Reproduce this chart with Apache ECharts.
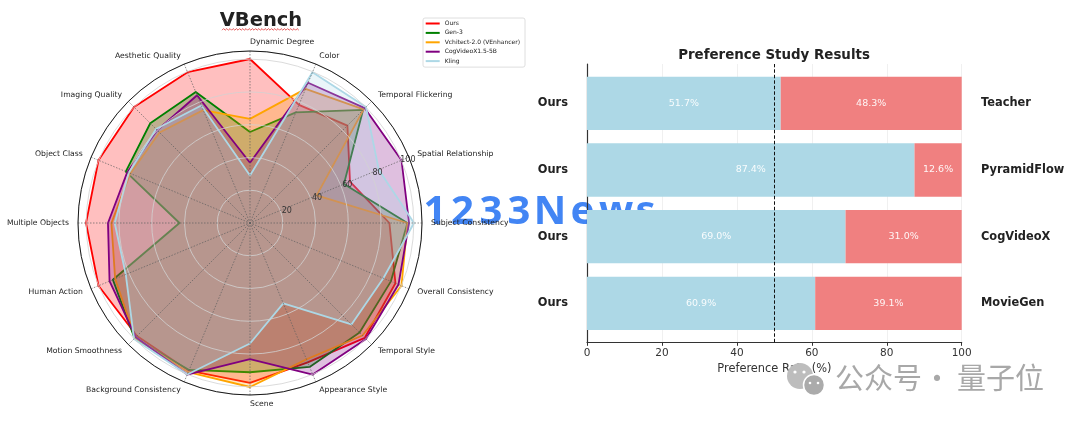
<!DOCTYPE html>
<html><head><meta charset="utf-8">
<script src="https://cdn.jsdelivr.net/npm/echarts@6/dist/echarts.min.js"></script>
<style>html,body{margin:0;padding:0;background:#fff}#c{width:1080px;height:421px}</style>
</head><body><div id="c"></div>
<script>
// ---------- data: VBench radar (clockwise from top) ----------
const radarCategories = ['Dynamic Degree','Color','Temporal Flickering','Spatial Relationship','Subject Consistency','Overall Consistency','Temporal Style','Appearance Style','Scene','Background Consistency','Motion Smoothness','Human Action','Multiple Objects','Object Class','Imaging Quality','Aesthetic Quality'];
const radarSeriesNames = ['Ours','Gen-3','Vchitect-2.0 (VEnhancer)','CogVideoX1.5-5B','Kling'];
const oursScores     = [100, 78, 84, 66, 85, 96, 99, 92, 97.5, 97.5, 97.5, 100, 100, 100, 100, 99.5];
const gen3Scores     = [55.5, 73, 97.5, 62, 96, 93, 94.5, 95, 91, 97, 99.5, 90.5, 43, 82, 86, 86.5];
const vchitectScores = [63.5, 88.5, 98, 44, 96, 100, 97, 90, 100, 98.5, 99, 89, 84.5, 79, 78, 74.5];
const cogvideoScores = [36.7, 92.6, 99, 100, 97, 98, 100, 100, 83, 100, 98.5, 92.7, 86.6, 81, 80, 84.3];
const klingScores    = [29, 99.5, 100, 85, 100, 88, 87.5, 53, 73.5, 100, 100, 82, 82.5, 80, 81, 77.6];
const radarTicks = [20, 40, 60, 80, 100];

// ---------- data: preference study ----------
const oursLabel = 'Ours';
const opponents = ['Teacher', 'PyramidFlow', 'CogVideoX', 'MovieGen'];
const oursRate = [51.7, 87.4, 69.0, 60.9];
const opponentRate = [48.3, 12.6, 31.0, 39.1];
const rateTicks = [0, 20, 40, 60, 80, 100];
const parityLine = 50;

// ---------- build ----------
const FONT = 'DejaVu Sans';
const colors = ['#ff0000', '#008000', '#ffa500', '#800080', '#add8e6'];
const allScores = [oursScores, gen3Scores, vchitectScores, cogvideoScores, klingScores];
// ECharts radar runs counter-clockwise; reorder so the picture runs clockwise
const order = [0].concat(radarCategories.map((_, i) => i).slice(1).reverse());
const reorder = arr => order.map(i => arr[i]);
const indicator = order.map(i => {
  const o = { name: radarCategories[i], min: 0, max: 100 };
  if (i === 0 || i === 8) o.nameTextStyle = { align: 'left', verticalAlign: 'middle' };
  return o;
});

const radarSeries = allScores.map((s, k) => ({
  type: 'radar', name: radarSeriesNames[k], symbol: 'none', z: 2, silent: true,
  lineStyle: { color: colors[k], width: 1.8 },
  itemStyle: { color: colors[k] },
  areaStyle: { color: colors[k], opacity: 0.25 },
  data: [{ value: reorder(s) }]
}));

const squiggle = [];
for (let x = 222, j = 0; x <= 300; x += 1.6, j++) squiggle.push([x, j % 2 ? 28.6 : 30.2]);

const wm = [['1',435],['2',462.5],['3',491],['3',519],['N',550],['e',582.5],['w',616],['s',645.5]];

const option = {
  backgroundColor: '#ffffff',
  animation: false,
  textStyle: { fontFamily: FONT },
  title: [
    { text: 'VBench', left: 256, top: 6, textAlign: 'center',
      textStyle: { fontSize: 19.5, fontWeight: 'bold', color: '#222', fontFamily: FONT } },
    { text: 'Preference Study Results', left: 769, top: 44, textAlign: 'center',
      textStyle: { fontSize: 13.4, fontWeight: 'bold', color: '#222', fontFamily: FONT } }
  ],
  legend: {
    data: radarSeriesNames, orient: 'vertical', left: 423, top: 18,
    icon: 'rect', itemWidth: 14, itemHeight: 2, itemGap: 1.4,
    padding: [1.5, 5, 2, 2.7], borderColor: '#d6d6d6', borderWidth: 0.8, borderRadius: 2,
    backgroundColor: '#fff', selectedMode: false,
    textStyle: { fontSize: 6, lineHeight: 8, color: '#222', fontFamily: FONT }
  },
  polar: { center: [250, 223], radius: 172 },
  angleAxis: {
    type: 'value', min: 0, max: 360, interval: 22.5, startAngle: 22.5, clockwise: true, z: 4,
    axisLine: { lineStyle: { color: '#1a1a1a', width: 1 } },
    axisTick: { show: false }, axisLabel: { show: false },
    splitLine: { lineStyle: { color: '#5e5e5e', width: 0.7, type: [1.5, 1.5] } }
  },
  radiusAxis: {
    min: 0, max: 105, interval: 20, z: 3,
    axisLine: { show: false }, axisTick: { show: false },
    splitLine: { lineStyle: { color: '#d2d2d2', width: 0.8 } },
    axisLabel: {
      formatter: v => radarTicks.includes(v) ? String(v) : '',
      fontSize: 8, color: '#333', fontFamily: FONT, margin: 0,
      align: 'center', verticalAlign: 'middle', padding: [0, 0, 12.4, 13]
    }
  },
  radar: {
    center: [250, 223], radius: 164, startAngle: 90, shape: 'circle', indicator,
    nameGap: 17,
    axisName: { color: '#222', fontSize: 7.7, fontFamily: FONT },
    splitLine: { show: false }, splitArea: { show: false },
    axisLine: { show: false }, axisTick: { show: false }, axisLabel: { show: false }
  },
  grid: [
    { left: 587, right: 118.3, top: 64, bottom: 78.7 },
    { left: 587, right: 118.3, top: 70, height: 266.7 }
  ],
  xAxis: [
    { gridIndex: 0, type: 'value', min: rateTicks[0], max: rateTicks[rateTicks.length - 1], interval: 20,
      axisLine: { show: true, onZero: false, lineStyle: { color: '#333', width: 1.2 } },
      axisTick: { show: true, length: 3.5, lineStyle: { color: '#333' } },
      axisLabel: { fontSize: 10.5, color: '#333', margin: 5, fontFamily: FONT },
      splitLine: { show: true, lineStyle: { color: '#ececec', width: 0.8 } },
      name: 'Preference Rate (%)', nameLocation: 'middle', nameGap: 18,
      nameTextStyle: { fontSize: 11.4, color: '#333', fontFamily: FONT } },
    { gridIndex: 1, type: 'value', min: 0, max: 100, show: false }
  ],
  yAxis: [
    { gridIndex: 0, type: 'value', min: -0.59, max: 3.59,
      axisLine: { show: true, onZero: false, lineStyle: { color: '#333', width: 1.2 } },
      axisTick: { show: false }, axisLabel: { show: false }, splitLine: { show: false } },
    { gridIndex: 1, type: 'category', data: opponents, inverse: true, position: 'right',
      axisLine: { show: false }, axisTick: { show: false },
      axisLabel: { fontSize: 11.4, fontWeight: 'bold', color: '#222', margin: 19.3, fontFamily: FONT } },
    { gridIndex: 1, type: 'category', data: opponents, inverse: true, position: 'left',
      axisLine: { show: false }, axisTick: { show: false },
      axisLabel: { formatter: () => oursLabel, fontSize: 11.4, fontWeight: 'bold', color: '#222', margin: 19, fontFamily: FONT } }
  ],
  series: radarSeries.concat([
    { type: 'bar', name: 'Ours rate', xAxisIndex: 1, yAxisIndex: 1, stack: 'pref', data: oursRate,
      barCategoryGap: '20%', itemStyle: { color: '#add8e6' },
      label: { show: true, position: 'inside', color: 'rgba(255,255,255,0.92)', fontSize: 9.5, fontFamily: FONT,
               formatter: p => p.value.toFixed(1) + '%' } },
    { type: 'bar', name: 'Opponent rate', xAxisIndex: 1, yAxisIndex: 1, stack: 'pref', data: opponentRate,
      barCategoryGap: '20%', itemStyle: { color: '#f08080' },
      label: { show: true, position: 'inside', color: 'rgba(255,255,255,0.92)', fontSize: 9.5, fontFamily: FONT,
               formatter: p => p.value.toFixed(1) + '%' } },
    { type: 'line', name: 'parity', xAxisIndex: 0, yAxisIndex: 0, data: [], z: 6, silent: true,
      markLine: { silent: true, symbol: ['none', 'none'], label: { show: false },
        lineStyle: { color: '#111', type: [3.5, 2], width: 1 }, data: [{ xAxis: parityLine }] } }
  ]),
  graphic: [
    { type: 'polyline', shape: { points: squiggle }, style: { stroke: '#e03030', lineWidth: 0.8, fill: null }, z: 10 },
    { type: 'group', z: 100, children: wm.map(([ch, x]) => ({
        type: 'text', x: x, y: 233,
        style: { text: ch, fill: '#4285f4', font: 'bold 40px "Noto Sans"', align: 'center', verticalAlign: 'bottom' }
      })) },
    { type: 'circle', shape: { cx: 800, cy: 376, r: 13 }, style: { fill: '#bdbdbd' }, z: 100 },
    { type: 'circle', shape: { cx: 814, cy: 385, r: 10.5 }, style: { fill: '#ababab', stroke: '#fff', lineWidth: 1.5 }, z: 101 },
    { type: 'circle', shape: { cx: 795, cy: 372, r: 1.6 }, style: { fill: '#fff' }, z: 102 },
    { type: 'circle', shape: { cx: 804, cy: 372, r: 1.6 }, style: { fill: '#fff' }, z: 102 },
    { type: 'circle', shape: { cx: 810, cy: 383, r: 1.3 }, style: { fill: '#fff' }, z: 102 },
    { type: 'circle', shape: { cx: 818, cy: 383, r: 1.3 }, style: { fill: '#fff' }, z: 102 },
    { type: 'text', x: 835, y: 378, z: 100,
      style: { text: '公众号', fill: '#a8a8a8', font: '29px "Noto Sans CJK SC"', verticalAlign: 'middle' } },
    { type: 'text', x: 937, y: 378, z: 100,
      style: { text: '·', fill: '#a8a8a8', font: '29px "Noto Sans CJK SC"', align: 'center', verticalAlign: 'middle' } },
    { type: 'text', x: 957, y: 378, z: 100,
      style: { text: '量子位', fill: '#a8a8a8', font: '29px "Noto Sans CJK SC"', verticalAlign: 'middle' } }
  ]
};

const chart = echarts.init(document.getElementById('c'), null, { renderer: 'canvas' });
chart.setOption(option);
</script>
</body></html>
